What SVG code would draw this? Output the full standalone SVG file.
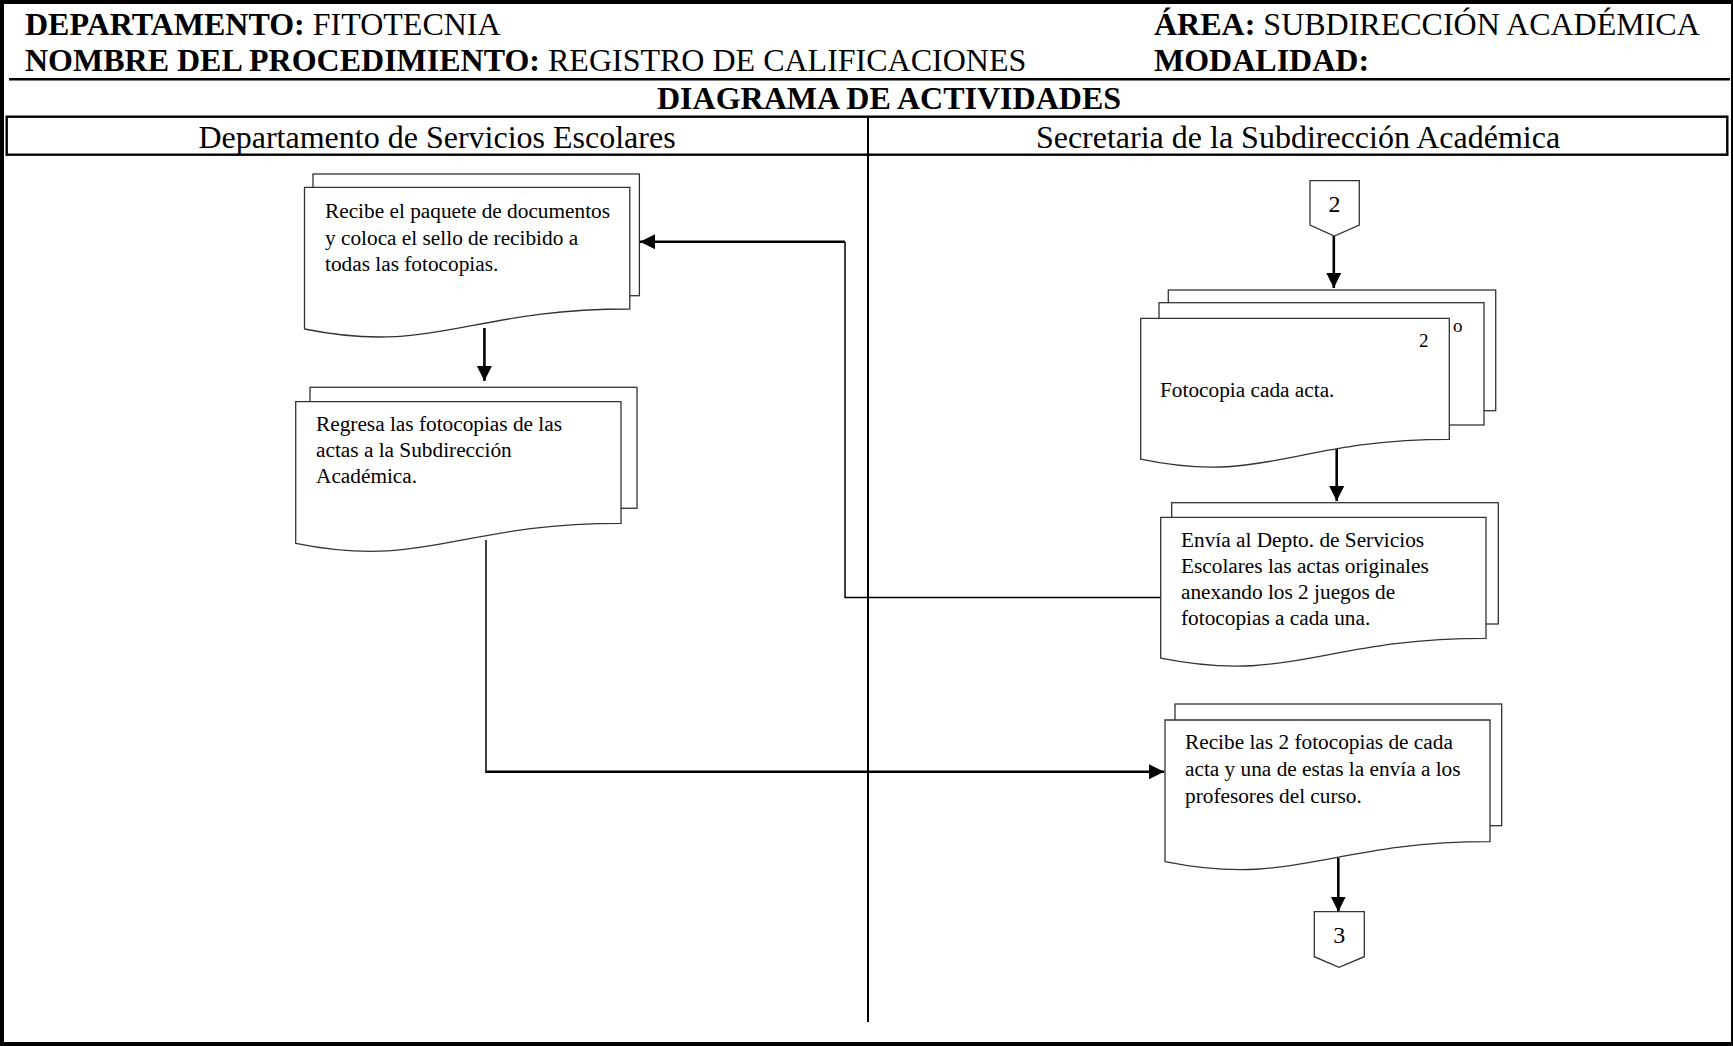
<svg xmlns="http://www.w3.org/2000/svg" width="1733" height="1046" viewBox="0 0 1733 1046">
<style>
text{font-family:"Liberation Serif","Times New Roman",serif;fill:#000}
.hdr{font-size:32px}
.b{font-weight:bold}
.lane{font-size:32px;text-anchor:middle}
.t{font-size:21.3px}
.doc{fill:#fff;stroke:#333;stroke-width:1.3}
.conn{fill:none;stroke:#000;stroke-width:1.5}
.arr{fill:none;stroke:#000;stroke-width:2.6;marker-end:url(#ah)}
.frame{fill:none;stroke:#000}
</style>
<defs>
<marker id="ah" markerUnits="userSpaceOnUse" markerWidth="16" markerHeight="16" viewBox="0 0 16 16" refX="15" refY="7.5" orient="auto">
<path d="M0,0 L15,7.5 L0,15 Z" fill="#000"/>
</marker>
</defs>
<g id="frame">
<rect class="frame" x="2" y="2" width="1731" height="1042" stroke-width="4"/>
<line class="frame" x1="9" y1="79.3" x2="1730" y2="79.3" stroke-width="2.4"/>
<rect class="frame" x="6.7" y="116.7" width="1720.6" height="38" stroke-width="2.4"/>
<line class="frame" x1="868" y1="116.7" x2="868" y2="1022" stroke-width="2"/>
</g>
<g id="header">
<text class="hdr" x="25" y="35"><tspan class="b">DEPARTAMENTO:</tspan> FITOTECNIA</text>
<text class="hdr" x="25" y="70.5"><tspan class="b">NOMBRE DEL PROCEDIMIENTO:</tspan> REGISTRO DE CALIFICACIONES</text>
<text class="hdr" x="1154" y="35"><tspan class="b">ÁREA:</tspan> SUBDIRECCIÓN ACADÉMICA</text>
<text class="hdr b" x="1154" y="70.5">MODALIDAD:</text>
<text class="hdr b" x="889" y="108.5" text-anchor="middle">DIAGRAMA DE ACTIVIDADES</text>
<text class="lane" x="437" y="147.5">Departamento de Servicios Escolares</text>
<text class="lane" x="1298" y="147.5">Secretaria de la Subdirección Académica</text>
</g>
<g id="connectors">
<line class="arr" x1="484.4" y1="328" x2="484.4" y2="381"/>
<polyline class="conn" points="1160.7,597.5 845,597.5 845,241.7"/>
<line class="arr" x1="845" y1="241.7" x2="640" y2="241.7"/>
<polyline class="conn" points="486,540 486,771.7"/>
<line class="arr" x1="485.2" y1="771.7" x2="1164" y2="771.7" stroke-width="3"/>
<line class="arr" x1="1333.8" y1="236" x2="1333.8" y2="288"/>
<line class="arr" x1="1336.7" y1="448" x2="1336.7" y2="501"/>
<line class="arr" x1="1338.3" y1="858" x2="1338.3" y2="911.7"/>
</g>
<g id="node-recibe-paquete">
<rect class="doc" x="313" y="174" width="326.4" height="121.7"/>
<path class="doc" d="M304.5,187.3 H629.8 V309 C467.2,309 434.6,355.2 304.5,329 Z"/>
<text class="t" x="325" y="218.3">Recibe el paquete de documentos</text>
<text class="t" x="325" y="244.5">y coloca el sello de recibido a</text>
<text class="t" x="325" y="270.7">todas las fotocopias.</text>
</g>
<g id="node-regresa">
<rect class="doc" x="310" y="387.3" width="327" height="121"/>
<path class="doc" d="M295.7,401.7 H621 V523.3 C458.4,523.3 425.8,569.5 295.7,543.3 Z"/>
<text class="t" x="316" y="430.9">Regresa las fotocopias de las</text>
<text class="t" x="316" y="457.1">actas a la Subdirección</text>
<text class="t" x="316" y="483.3">Académica.</text>
</g>
<g id="connector-2">
<path class="doc" d="M1310,180.7 H1359.3 V225 L1334.3,236 L1310,225 Z"/>
<text x="1334.6" y="211.7" font-size="24" text-anchor="middle">2</text>
</g>
<g id="node-fotocopia">
<rect class="doc" x="1168.3" y="290" width="327.4" height="120.7"/>
<rect class="doc" x="1159" y="302.7" width="325" height="122.3"/>
<text x="1453" y="331.7" font-size="19">o</text>
<path class="doc" d="M1140.7,318.3 H1449.3 V439.3 C1295,439.3 1264.1,485.3 1140.7,459.2 Z"/>
<text x="1419" y="346.7" font-size="19">2</text>
<text class="t" x="1160" y="396.7">Fotocopia cada acta.</text>
</g>
<g id="node-envia">
<rect class="doc" x="1171.7" y="502.7" width="326.6" height="121.3"/>
<path class="doc" d="M1160.7,517.3 H1486 V638.3 C1323.4,638.3 1290.8,684.3 1160.7,658.2 Z"/>
<text class="t" x="1181" y="546.5">Envía al Depto. de Servicios</text>
<text class="t" x="1181" y="572.8">Escolares las actas originales</text>
<text class="t" x="1181" y="599.1">anexando los 2 juegos de</text>
<text class="t" x="1181" y="625.4">fotocopias a cada una.</text>
</g>
<g id="node-recibe-fotocopias">
<rect class="doc" x="1175" y="704" width="326.7" height="121.7"/>
<path class="doc" d="M1165,720 H1490 V841.7 C1327.5,841.7 1295,887.9 1165,861.7 Z"/>
<text class="t" x="1185" y="749.3">Recibe las 2 fotocopias de cada</text>
<text class="t" x="1185" y="776">acta y una de estas la envía a los</text>
<text class="t" x="1185" y="802.7">profesores del curso.</text>
</g>
<g id="connector-3">
<path class="doc" d="M1314.3,911.7 H1364.3 V956.7 L1339,967.3 L1314.3,956.7 Z"/>
<text x="1339.3" y="943.3" font-size="24" text-anchor="middle">3</text>
</g>
</svg>
